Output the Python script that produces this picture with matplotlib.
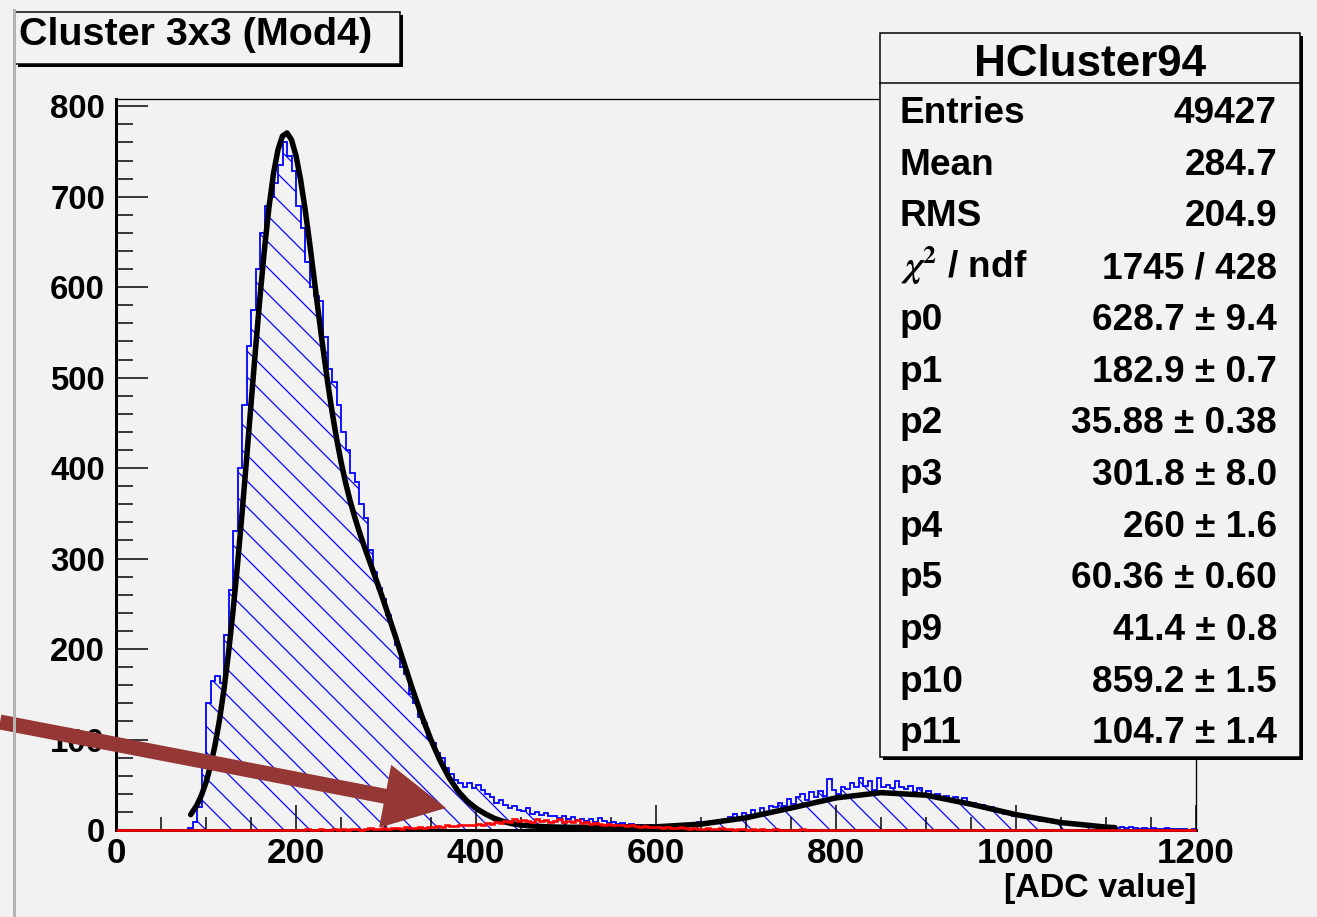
import numpy as np
import matplotlib.pyplot as plt
from matplotlib.patches import Rectangle, FancyArrow
from matplotlib.ticker import MultipleLocator

# blue histogram: 5 ADC bins starting at 80
blue_start = 80
blue = [2, 9, 25, 70, 140, 165, 170, 162, 215, 265,
        330, 400, 470, 535, 575, 620, 660, 690, 700, 715,
        735, 760, 745, 728, 690, 665, 628, 600, 590, 585,
        545, 510, 495, 470, 440, 420, 395, 385, 360, 345,
        310, 285, 268, 255, 238, 222, 205, 180, 172, 150,
        140, 125, 118, 102, 96, 85, 80, 68, 62, 55,
        52, 48, 52, 46, 50, 44, 40, 36, 30, 33,
        28, 24, 26, 22, 21, 24, 18, 20, 17, 19,
        15, 16, 13, 15, 12, 14, 11, 12, 10, 12,
        9, 13, 10, 8, 9, 7, 8, 6, 7, 5,
        6, 4, 5, 4, 5, 3, 6, 4, 5, 6,
        5, 7, 6, 9, 7, 8, 10, 9, 11, 12,
        14, 18, 12, 19, 17, 22, 16, 24, 20, 26,
        25, 30, 27, 34, 29, 36, 40, 33, 42, 37,
        43, 38, 56, 44, 40, 48, 45, 52, 47, 58,
        49, 54, 44, 57, 48, 50, 46, 54, 47, 45,
        49, 42, 46, 38, 43, 36, 40, 35, 38, 32,
        36, 31, 35, 29, 30, 26, 28, 24, 25, 21,
        22, 18, 20, 16, 17, 14, 15, 12, 13, 10,
        11, 9, 10, 8, 7, 8, 6, 7, 5, 6,
        4, 5, 3, 4, 3, 4, 2, 3, 2, 3,
        2, 1, 2, 1, 2, 1, 1, 2, 1, 1,
        1, 1, 0, 1]

# red histogram: 5 ADC bins starting at 200 (zero elsewhere)
red_start = 200
red = [0, 0, 1, 0, 0, 1, 0, 0, 1, 0,
       1, 0, 1, 1, 0, 1, 2, 1, 1, 2,
       1, 2, 2, 1, 3, 2, 2, 3, 2, 3,
       3, 4, 3, 5, 4, 4, 5, 6, 5, 5,
       7, 6, 8, 7, 9, 8, 10, 9, 12, 10,
       11, 10, 9, 12, 10, 11, 9, 10, 12, 9,
       10, 9, 11, 8, 9, 7, 8, 7, 6, 7,
       6, 5, 6, 4, 5, 4, 3, 4, 3, 3,
       3, 2, 3, 2, 2, 3, 2, 1, 2, 1,
       1, 2, 1, 1, 2, 1, 1, 0, 1, 1,
       0, 1, 0, 1, 0, 0, 1, 0, 0, 0,
       0, 0, 1, 0, 0, 0, 0, 0, 0, 0]

# fit curve
fit_x = [83, 90, 95, 100, 105, 110, 115, 120, 125, 130, 135, 140, 145, 150,
         155, 160, 165, 170, 175, 180, 185, 190, 195, 200, 205, 210, 215,
         220, 225, 230, 235, 240, 245, 250, 255, 260, 265, 270, 275, 280,
         285, 290, 295, 300, 310, 320, 330, 340, 350, 360, 370, 380, 390,
         400, 410, 420, 430, 440, 450, 460, 480, 500, 550, 600, 650, 700,
         750, 800, 850, 900, 950, 1000, 1050, 1100, 1110]
fit_y = [17, 27.7, 38.5, 52.6, 70.8, 93.6, 121.7, 155.7, 195.7, 241.8, 293.2,
         349.4, 409.1, 470.2, 531.2, 589.3, 642.6, 688.6, 725.7, 752.0, 767.1,
         770.5, 762.9, 745.3, 719.4, 686.9, 650.0, 610.7, 571.0, 532.3, 496.0,
         462.9, 433.2, 407.1, 384.3, 364.3, 346.7, 330.7, 315.9, 301.9, 288.0,
         274.0, 259.9, 245.4, 215.4, 184.5, 154, 125.4, 99.5, 77, 58, 43, 32,
         24, 18, 13, 9.5, 7, 5.5, 4.5, 3.5, 3, 3, 3.5, 6.5, 13.5, 24.3, 35.5,
         41.3, 38.5, 28.5, 17, 8.2, 3.2, 2.6]

stat_names = ['Entries', 'Mean', 'RMS', r'$\chi^{2}$ / ndf', 'p0', 'p1', 'p2',
              'p3', 'p4', 'p5', 'p9', 'p10', 'p11']
stat_vals = ['49427', '284.7', '204.9', '1745 / 428', '628.7 \u00b1 9.4',
             '182.9 \u00b1 0.7', '35.88 \u00b1 0.38', '301.8 \u00b1 8.0',
             '260 \u00b1 1.6', '60.36 \u00b1 0.60', '41.4 \u00b1 0.8',
             '859.2 \u00b1 1.5', '104.7 \u00b1 1.4']

DPI = 78
W, H = 1317, 917
PT = 72.0 / DPI   # pixels -> points
BG = '#f2f2f2'

plt.rcParams['font.family'] = ['Liberation Sans', 'DejaVu Sans']
plt.rcParams['font.weight'] = 'bold'
plt.rcParams['mathtext.fontset'] = 'stix'
plt.rcParams['hatch.linewidth'] = 1.2 * PT

fig = plt.figure(figsize=(W / DPI, H / DPI), dpi=DPI, facecolor=BG)

ax = fig.add_axes([116 / W, 1 - 830 / H, (1196 - 116) / W, (830 - 99) / H])
ax.set_facecolor(BG)

edges = blue_start + 5 * np.arange(len(blue) + 1)
ax.stairs(blue, edges, fill=True, hatch='\\', facecolor='none',
          edgecolor='blue', linewidth=0, zorder=1)
ax.stairs(blue, edges, color='blue', lw=1.8 * PT, zorder=2)

ax.plot(fit_x, fit_y, color='black', lw=5.5 * PT, solid_joinstyle='round',
        solid_capstyle='round', zorder=3)

nred = 1200 // 5
lead = red_start // 5
red_full = [0] * lead + red + [0] * (nred - lead - len(red))
ax.stairs(red_full, 5 * np.arange(nred + 1), color='red', lw=2.6 * PT,
          zorder=4, clip_on=False)

ax.set_xlim(0, 1200)
ax.set_ylim(0, 808)
ax.xaxis.set_major_locator(MultipleLocator(200))
ax.xaxis.set_minor_locator(MultipleLocator(50))
ax.yaxis.set_major_locator(MultipleLocator(100))
ax.yaxis.set_minor_locator(MultipleLocator(20))
ax.tick_params(which='both', direction='in', width=1.5 * PT, colors='black')
ax.tick_params(axis='x', which='major', length=25 * PT, pad=7 * PT, labelsize=35 * PT)
ax.tick_params(axis='x', which='minor', length=13 * PT)
ax.tick_params(axis='y', which='major', length=32 * PT, pad=11 * PT, labelsize=33 * PT)
ax.tick_params(axis='y', which='minor', length=17 * PT)
for s in ['left', 'bottom']:
    ax.spines[s].set_linewidth(3 * PT)
for s in ['top', 'right']:
    ax.spines[s].set_linewidth(1.3 * PT)

# overlay in pixel coordinates for boxes, labels and the arrow
ov = fig.add_axes([0, 0, 1, 1])
ov.set_xlim(0, W)
ov.set_ylim(H, 0)
ov.axis('off')
ov.set_zorder(5)

ov.plot([14, 14], [10, H], color='#b4b4b4', lw=3 * PT)

# title box
ov.add_patch(Rectangle((18, 15), 385, 52, fc='black', ec='none'))
ov.add_patch(Rectangle((15, 12), 385, 52, fc=BG, ec='black', lw=1.5 * PT))
ov.text(19, 45, 'Cluster 3x3 (Mod4)', fontsize=39.5 * PT, ha='left', va='baseline')

# stats box
ov.add_patch(Rectangle((883, 36), 420, 724, fc='black', ec='none'))
ov.add_patch(Rectangle((880, 33), 420, 724, fc=BG, ec='black', lw=1.5 * PT))
ov.plot([880, 1300], [83, 83], color='black', lw=1.5 * PT)
ov.text(1090, 76, 'HCluster94', fontsize=44 * PT, ha='center', va='baseline')
for i, (n, v) in enumerate(zip(stat_names, stat_vals)):
    yb = 123 + i * 51.7
    ov.text(900, yb, n, fontsize=37 * PT, ha='left', va='baseline')
    ov.text(1277, yb, v, fontsize=37 * PT, ha='right', va='baseline')

ov.text(1196, 897, '[ADC value]', fontsize=34 * PT, ha='right', va='baseline')

ov.add_patch(FancyArrow(0, 722, 446, 86, width=15, head_width=64, head_length=62,
                        length_includes_head=True, fc='#953735', ec='none'))

fig.savefig('out.png', dpi=DPI, facecolor=BG)
